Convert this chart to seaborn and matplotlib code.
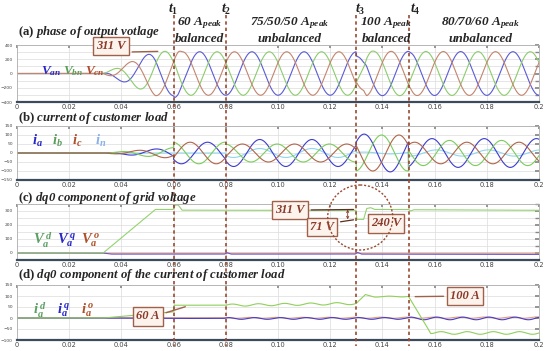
import numpy as np
import matplotlib
matplotlib.use("Agg")
import matplotlib.pyplot as plt
from matplotlib.patches import Ellipse
from matplotlib.ticker import MultipleLocator
import seaborn as sns

# ---------------- data ----------------
T_EVENTS = [0.06, 0.08, 0.13, 0.15]
T_NAMES = ["$t_1$", "$t_2$", "$t_3$", "$t_4$"]
REGION_X = [0.070, 0.1045, 0.1415, 0.1775]
REGION_LOAD = ["60 $A_{peak}$", "75/50/50 $A_{peak}$", "100 $A_{peak}$", "80/70/60 $A_{peak}$"]
REGION_KIND = ["balanced", "unbalanced", "balanced", "unbalanced"]

F_GRID = 50.0
V_PEAK_TIME = 0.15          # phase-a voltage peak instant

# (c) dq0 grid voltage (d-axis is also the envelope of (a))
VD_T = [0, 0.033, 0.053, 0.0598, 0.0606, 0.0618, 0.0632, 0.08, 0.1299, 0.1302,
        0.1328, 0.1340, 0.1355, 0.1370, 0.1500, 0.1508, 0.1520, 0.2]
VD_V = [0, 0, 311, 311, 342, 342, 306, 305, 305, 240,
        240, 318, 324, 311, 311, 300, 309, 305]
VQ_T = [0, 0.033, 0.036, 0.0795, 0.0805, 0.082, 0.1295, 0.1305, 0.132, 0.2]
VQ_V = [0, 0, -8, -8, 2, -8, -8, 4, -8, -10]
V0_T = [0, 0.2]
V0_V = [0, 0]

# (b) phase currents per load segment
SEG_T = [0.033, 0.06, 0.08, 0.13, 0.15, 0.2]
IA_PK = [30, 60, 75, 105, 80]
IB_PK = [30, 60, 50, 100, 70]
IC_PK = [30, 60, 50, 100, 60]
I_PEAK_TIME = [0.133, 0.133, 0.133, 0.133, 0.159]

# (d) dq0 load current
ID_T = [0, 0.033, 0.0598, 0.0602, 0.08, 0.13, 0.1335, 0.137, 0.15, 0.1585, 0.2]
ID_V = [0, 0, 28, 58, 58, 66, 105, 97, 98, -68, -68]
ID_RIP_T = [0, 0.079, 0.081, 0.129, 0.131, 0.149, 0.151, 0.157, 0.160, 0.2]
ID_RIP_V = [0, 0, 5, 5, 2, 2, 0, 0, 6, 6]
IQ_T = [0, 0.033, 0.06, 0.08, 0.2]
IQ_V = [0, 0, -2, -2, -2]
IQ_RIP_T = [0, 0.079, 0.081, 0.149, 0.151, 0.2]
IQ_RIP_V = [0, 0, 4, 4, 6, 6]
IO_T = [0, 0.2]
IO_V = [0, 2]
IO_RIP_T = [0, 0.079, 0.081, 0.2]
IO_RIP_V = [0, 0, 2, 3]

# ---------------- waveforms ----------------
t = np.linspace(0, 0.2, 4001)
w = 2 * np.pi * F_GRID
shift = [0, -2 * np.pi / 3, 2 * np.pi / 3]

env = np.interp(t, VD_T, VD_V)
va, vb, vc = [env * np.cos(w * (t - V_PEAK_TIME) + s) for s in shift]


def phase_current(pk, s):
    out = np.zeros_like(t)
    for k in range(len(pk)):
        m = (t >= SEG_T[k]) & (t <= SEG_T[k + 1])
        amp = pk[k]
        if k == 0:
            amp = pk[0] * (t[m] - SEG_T[0]) / (SEG_T[1] - SEG_T[0])
        out[m] = amp * np.cos(w * (t[m] - I_PEAK_TIME[k]) + s)
    return out


ia, ib, ic = [phase_current(p, s) for p, s in zip([IA_PK, IB_PK, IC_PK], shift)]
i_n = ia + ib + ic

vd = env
vq = np.interp(t, VQ_T, VQ_V)
v0 = np.interp(t, V0_T, V0_V)
rip = np.sin(2 * w * t)
i_d = np.interp(t, ID_T, ID_V) + np.interp(t, ID_RIP_T, ID_RIP_V) * rip
i_q = np.interp(t, IQ_T, IQ_V) + np.interp(t, IQ_RIP_T, IQ_RIP_V) * np.sin(2 * w * t + 1.0)
i_o = np.interp(t, IO_T, IO_V) + np.interp(t, IO_RIP_T, IO_RIP_V) * np.sin(2 * w * t + 2.0)

# ---------------- style ----------------
sns.set_theme(style="white")
plt.rcParams['font.family'] = ['Liberation Serif', 'DejaVu Serif']
plt.rcParams['mathtext.fontset'] = 'custom'
plt.rcParams['mathtext.rm'] = 'Liberation Serif:bold'
plt.rcParams['mathtext.it'] = 'Liberation Serif:italic:bold'
plt.rcParams['mathtext.bf'] = 'Liberation Serif:italic:bold'

BROWN = '#9a4a30'
BOX = dict(boxstyle='square,pad=0.25', fc='#fbf3ec', ec='#a0604a', lw=1.0)
BOXTXT = dict(color='#8b3a2a', fontsize=9, style='italic', weight='bold')

W_PX, H_PX = 550, 351
L, R = 17, 539
fig = plt.figure(figsize=(5.5, 3.51), dpi=100)


def px_axes(top, bot):
    return fig.add_axes([L / W_PX, 1 - bot / H_PX, (R - L) / W_PX, (bot - top) / H_PX])


def style_axes(ax, ylim, major, minor):
    ax.set_xlim(0, 0.2)
    ax.set_ylim(*ylim)
    ax.yaxis.set_major_locator(MultipleLocator(major))
    ax.yaxis.set_minor_locator(MultipleLocator(minor))
    ax.set_xticks(np.arange(0, 0.2001, 0.02))
    ax.set_xticklabels(["0"] + [f"{v:.2f}" for v in np.arange(0.02, 0.19, 0.02)] + ["0.2"])
    ax.grid(True, which='both', color='#dcdcdc', lw=0.5)
    ax.tick_params(axis='x', labelsize=4.8, labelcolor='#444', length=2, pad=1.5,
                   direction='in', top=True, color='#888', labelfontfamily='DejaVu Sans')
    ax.tick_params(axis='y', which='both', labelsize=3.2, labelcolor='#444', length=3, pad=3,
                   direction='in', right=True, color='#888', labelfontfamily='DejaVu Sans')
    ax.tick_params(axis='y', which='minor', labelleft=False)
    for s in ['top', 'left', 'right']:
        ax.spines[s].set_color('#b0b0b0')
        ax.spines[s].set_linewidth(0.6)
    ax.spines['bottom'].set_color('#3c4a5c')
    ax.spines['bottom'].set_linewidth(1.6)
    ax.set_xlabel('')
    ax.set_ylabel('')


def line(ax, y, c, lw=0.8):
    sns.lineplot(x=t, y=y, ax=ax, color=c, lw=lw, estimator=None, sort=False)


# (a) phase voltages
ax_a = px_axes(45, 102)
line(ax_a, va, '#5b5bd6')
line(ax_a, vb, '#8ccc6c')
line(ax_a, vc, '#c4846e')
style_axes(ax_a, (-400, 400), 200, 100)
for x, s, c in zip([0.0092, 0.0176, 0.0262], ["$V_{an}$", "$V_{bn}$", "$V_{cn}$"],
                   ['#2828c8', '#5a9e5a', '#b04a2a']):
    ax_a.text(x, 30, s, color=c, fontsize=9.5, ha='left', va='center')
ax_a.annotate("311 V", xy=(0.055, 311), xytext=(0.036, 385), ha='center', va='center',
              bbox=BOX, annotation_clip=False, **BOXTXT,
              arrowprops=dict(arrowstyle='-', color='#a0604a', lw=1.0, relpos=(1, 0)))

# (b) load currents
ax_b = px_axes(126, 180)
line(ax_b, i_n, '#8fd6ee')
line(ax_b, ia, '#3c3cd0')
line(ax_b, ib, '#7ccc5c')
line(ax_b, ic, '#b0654a')
style_axes(ax_b, (-150, 150), 50, 50)
for x, s, c in zip([0.0058, 0.0135, 0.0212, 0.0300], ["$i_a$", "$i_b$", "$i_c$", "$i_n$"],
                   ['#2828c8', '#5a9e5a', '#b0502a', '#8ab0e8']):
    ax_b.text(x, 65, s, color=c, fontsize=10.5, ha='left', va='center')

# (c) dq0 grid voltage
ax_c = px_axes(204, 260)
line(ax_c, v0, '#e3a07a')
line(ax_c, vq, '#6a55d0')
line(ax_c, vd, '#93d36e')
style_axes(ax_c, (-50, 350), 100, 50)
for x, s, c in zip([0.0062, 0.0155, 0.0245], ["$V_a^{\\,d}$", "$V_a^{\\,q}$", "$V_a^{\\,o}$"],
                   ['#5aa060', '#2828c8', '#b0502a']):
    ax_c.text(x, 90, s, color=c, fontsize=10.5, ha='left', va='center')
ax_c.annotate("311 V", xy=(T_EVENTS[2], 311), xytext=(0.1046, 307), ha='center', va='center',
              bbox=BOX, **BOXTXT,
              arrowprops=dict(arrowstyle='-', color='#5a3020', lw=0.9, relpos=(1, 0.5)))
ax_c.annotate("71 V", xy=(T_EVENTS[2], 240), xytext=(0.1169, 186), ha='center', va='center',
              bbox=BOX, **BOXTXT,
              arrowprops=dict(arrowstyle='-', color='#5a3020', lw=0.9, relpos=(1, 0.85)))
ax_c.annotate("", xy=(0.1267, 311), xytext=(0.1267, 240),
              arrowprops=dict(arrowstyle='<->', color='#8a3a28', lw=0.6,
                              mutation_scale=4, shrinkA=0, shrinkB=0))
ax_c.text(0.1414, 211, "240 V", ha='center', va='center', bbox=BOX, **BOXTXT)

# (d) dq0 load current
ax_d = px_axes(285, 340)
line(ax_d, i_o, '#e0a080')
line(ax_d, i_q, '#4a3cc8')
line(ax_d, i_d, '#8fd05a')
style_axes(ax_d, (-100, 150), 50, 50)
for x, s, c in zip([0.0062, 0.0155, 0.0245], ["$i_a^{\\,d}$", "$i_a^{\\,q}$", "$i_a^{\\,o}$"],
                   ['#5aa060', '#2828c8', '#b0502a']):
    ax_d.text(x, 35, s, color=c, fontsize=10.5, ha='left', va='center')
ax_d.annotate("60 A", xy=(0.0655, 55), xytext=(0.0502, 7), ha='center', va='center',
              bbox=BOX, **BOXTXT,
              arrowprops=dict(arrowstyle='-', color='#a0604a', lw=1.0, relpos=(1, 0.65)))
ax_d.annotate("100 A", xy=(T_EVENTS[3] + 0.0015, 97), xytext=(0.1716, 99), ha='center', va='center',
              bbox=BOX, **BOXTXT,
              arrowprops=dict(arrowstyle='-', color='#a0604a', lw=1.0, relpos=(0, 0.5)))

# overlay: event markers, region labels, titles (y in figure pixels)
ov = fig.add_axes([L / W_PX, 0, (R - L) / W_PX, 1], facecolor='none')
ov.set_xlim(0, 0.2)
ov.set_ylim(H_PX, 0)
ov.axis('off')
ov.set_zorder(5)
for te in T_EVENTS:
    ov.plot([te, te], [15, 346], color=BROWN, lw=1.2, dashes=(2.0, 1.8),
            dash_capstyle='butt')
for te, nm, dx in zip(T_EVENTS, T_NAMES, [0.0, 0.0003, 0.0013, 0.0025]):
    ov.text(te + dx, 9, nm, ha='center', va='center', fontsize=10, color='#222')
for x, a, b in zip(REGION_X, REGION_LOAD, REGION_KIND):
    ov.text(x, 23, a, ha='center', va='center', fontsize=9.5, style='italic', weight='bold')
    ov.text(x, 39, b, ha='center', va='center', fontsize=9.5, style='italic', weight='bold')
ov.add_patch(Ellipse((0.1315, 217.5), 65 / 2610, 65, fill=False, ec=BROWN,
                     ls=(0, (1.5, 1.3)), lw=1.0))

TITLES = ["$\\mathrm{(a)}$ phase of output votlage",
          "$\\mathrm{(b)}$ current of customer load",
          "$\\mathrm{(c)}$ dq0 component of grid voltage",
          "$\\mathrm{(d)}$ dq0 component of the current of customer load"]
TITLE_Y = [32, 118, 198, 275]
for s, y in zip(TITLES, TITLE_Y):
    ov.text(0.0003, y, s, ha='left', va='center', fontsize=9.2, style='italic', weight='bold')

fig.savefig("out.png", dpi=100)
